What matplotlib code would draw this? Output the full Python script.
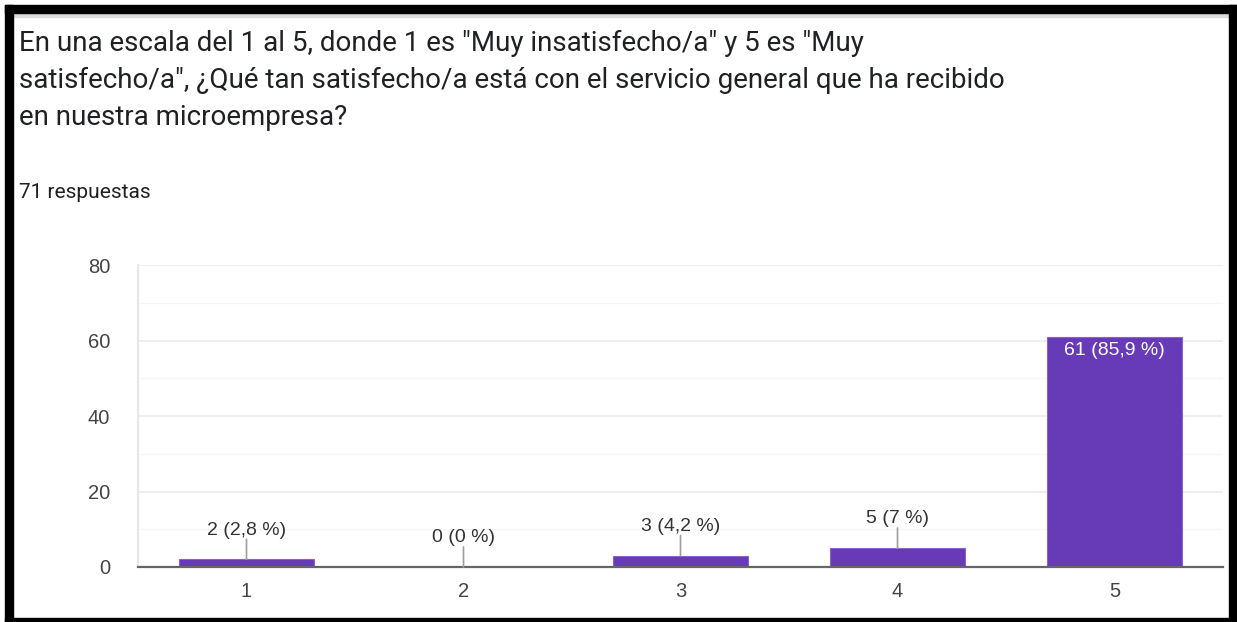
import matplotlib.pyplot as plt
from matplotlib.patches import Rectangle

plt.rcParams['font.family'] = ['Roboto', 'DejaVu Sans']
CHART_FONT = ['Liberation Sans', 'DejaVu Sans']

title = ('En una escala del 1 al 5, donde 1 es "Muy insatisfecho/a" y 5 es "Muy\n'
         'satisfecho/a", ¿Qué tan satisfecho/a está con el servicio general que ha recibido\n'
         'en nuestra microempresa?')
subtitle = '71 respuestas'
categories = ['1', '2', '3', '4', '5']
counts = [2, 0, 3, 5, 61]
labels = ['2 (2,8 %)', '0 (0 %)', '3 (4,2 %)', '5 (7 %)', '61 (85,9 %)']

W, H = 1237, 622
fig = plt.figure(figsize=(W / 100, H / 100), dpi=100)
fig.patch.set_facecolor('white')

# black frame around the card
frame = dict(transform=fig.transFigure, color='black', zorder=10)
fig.patches.append(Rectangle((5 / W, 0), 8 / W, (H - 5) / H, **frame))
fig.patches.append(Rectangle((1229 / W, 0), 8 / W, (H - 5) / H, **frame))
fig.patches.append(Rectangle((5 / W, (H - 13) / H), 1232 / W, 8 / H, **frame))
fig.patches.append(Rectangle((5 / W, 0), 1232 / W, 4 / H, **frame))
fig.patches.append(Rectangle((13 / W, (H - 17) / H), 1216 / W, 4 / H,
                             transform=fig.transFigure, color='#dcdcdc', zorder=9))

fig.text(19 / W, 1 - 30 / H, title, ha='left', va='top', fontsize=20,
         color='#202124', linespacing=1.47)
fig.text(19 / W, 1 - 193 / H, subtitle, ha='left', va='center', fontsize=15,
         color='#202124')

ax = fig.add_axes([138 / W, (H - 567) / H, (1223 - 138) / W, (567 - 265) / H])
x = range(len(categories))
bars = ax.bar(x, counts, width=0.62, color='#673ab7', edgecolor='#8a63c9',
              linewidth=0.8, zorder=3)

ax.set_xlim(-0.5, len(categories) - 0.5)
ax.set_ylim(0, 80)
ax.set_yticks([0, 20, 40, 60, 80])
ax.set_yticks([10, 30, 50, 70], minor=True)
ax.set_xticks(list(x))
ax.set_xticklabels(categories)
for t in ax.get_xticklabels() + ax.get_yticklabels():
    t.set_family(CHART_FONT)
ax.grid(axis='y', which='major', color='#ebebeb', linewidth=1.2, zorder=0)
ax.grid(axis='y', which='minor', color='#f5f5f5', linewidth=1.0, zorder=0)
ax.tick_params(axis='both', which='both', length=0, labelsize=14.5,
               colors='#444444')
ax.tick_params(axis='y', pad=20)
ax.tick_params(axis='x', pad=11)
for side in ['top', 'right']:
    ax.spines[side].set_visible(False)
ax.spines['left'].set_color('#e6e6e6')
ax.spines['left'].set_linewidth(1.5)
ax.spines['bottom'].set_color('#666666')
ax.spines['bottom'].set_linewidth(1.6)
ax.spines['bottom'].set_zorder(4)

for xi, val, lab in zip(x, counts, labels):
    if val > 20:
        ax.annotate(lab, (xi, val), xytext=(0, -4), textcoords='offset points',
                    ha='center', va='top', fontsize=14, color='white',
                    family=CHART_FONT, zorder=5)
    else:
        ax.annotate('', (xi, val), xytext=(0, 14.5), textcoords='offset points',
                    arrowprops=dict(arrowstyle='-', color='#9e9e9e', lw=1.2,
                                    shrinkA=0, shrinkB=0), zorder=5)
        ax.annotate(lab, (xi, val), xytext=(0, 21), textcoords='offset points',
                    ha='center', va='center', fontsize=14, color='#333333',
                    family=CHART_FONT, zorder=5)

fig.savefig('out.png', dpi=100)
